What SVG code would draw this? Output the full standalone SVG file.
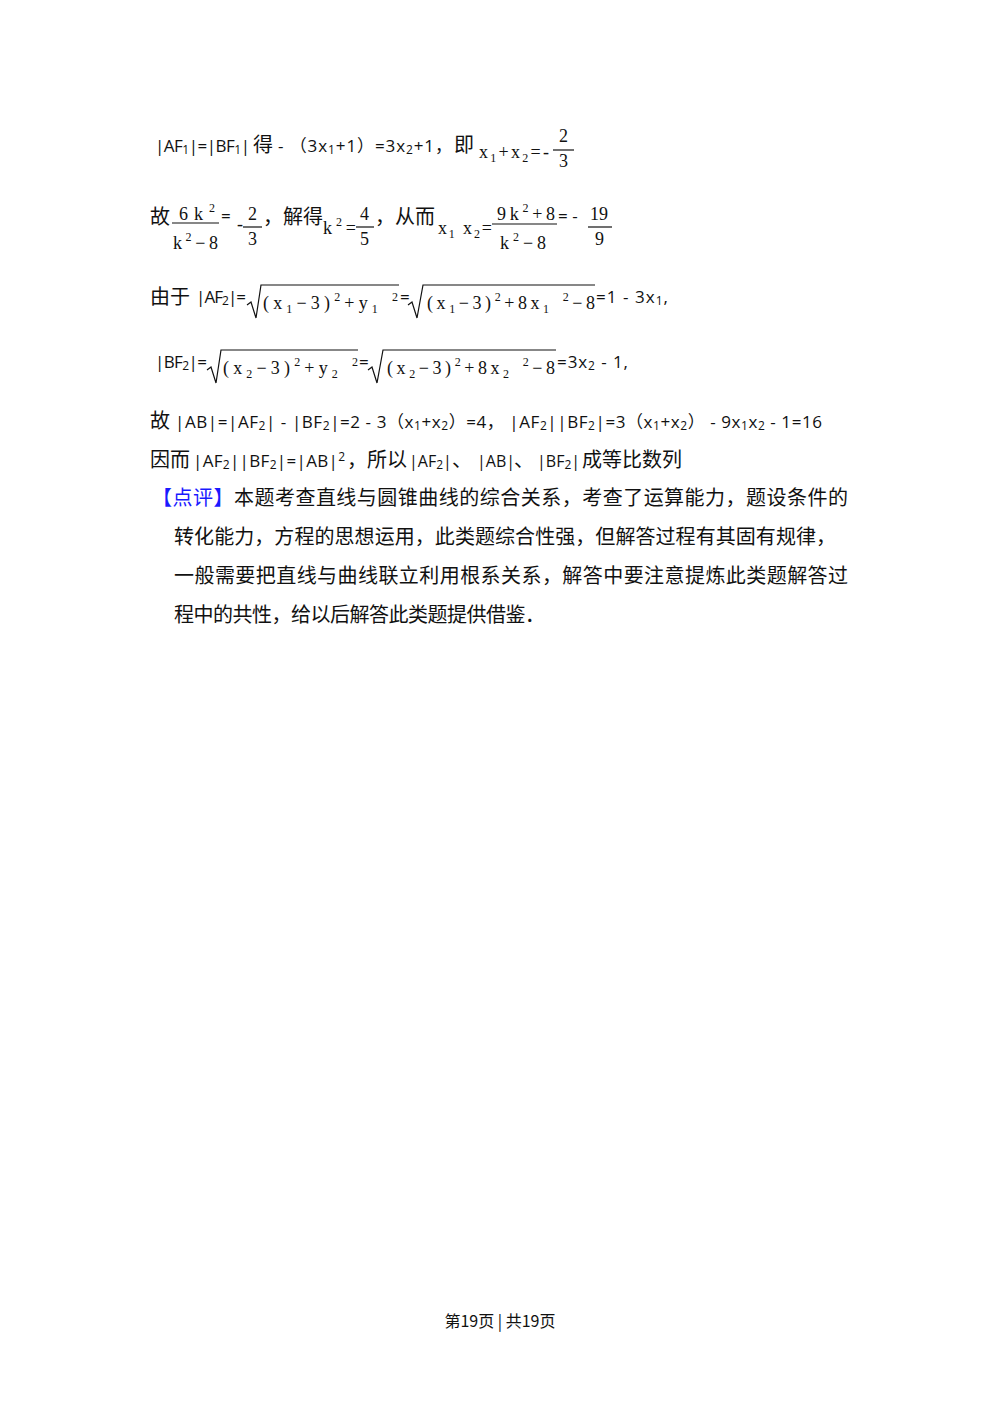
<svg xmlns="http://www.w3.org/2000/svg" width="1000" height="1414" viewBox="0 0 1000 1414">
<style>
.t{font-family:"Open Sans","Noto Sans CJK SC",sans-serif;font-size:17px;fill:#111}
.c{font-family:"Noto Sans CJK SC",sans-serif;font-size:20px;fill:#111}
.m{font-family:"Liberation Serif","DejaVu Serif",serif;font-size:18px;fill:#111}
.s{font-size:12px}
.bl{fill:#1a1aff}
.ln{stroke:#111;stroke-width:1.2;fill:none}
</style>
<rect width="1000" height="1414" fill="#fff"/>
<g id="line1">
<text class="t" x="155" y="152" textLength="95" lengthAdjust="spacing">|AF<tspan class="s" dy="2">1</tspan><tspan dy="-2">|=|BF</tspan><tspan class="s" dy="2">1</tspan><tspan dy="-2">|</tspan></text>
<text class="c" x="253" y="152">得</text>
<text class="t" x="278" y="152" textLength="174" lengthAdjust="spacing">- （3x<tspan class="s" dy="2">1</tspan><tspan dy="-2">+1）=3x</tspan><tspan class="s" dy="2">2</tspan><tspan dy="-2">+1，</tspan></text>
<text class="c" x="454" y="152">即</text>
<text class="m" x="479" y="158" textLength="70" lengthAdjust="spacing">x<tspan class="s" dy="4">1</tspan><tspan dy="-4">+x</tspan><tspan class="s" dy="4">2</tspan><tspan dy="-4">=-</tspan></text>
<text class="m" x="559" y="142">2</text><line class="ln" x1="553" y1="150" x2="574" y2="150"/><text class="m" x="559" y="167">3</text>
</g>
<g id="line2">
<text class="c" x="150" y="224">故</text>
<text class="m" x="179" y="220" textLength="36" lengthAdjust="spacing">6k<tspan class="s" dy="-8">2</tspan></text><line class="ln" x1="172" y1="223" x2="219" y2="223"/>
<text class="m" x="173" y="249" textLength="45" lengthAdjust="spacing">k<tspan class="s" dy="-8">2</tspan><tspan dy="8">−8</tspan></text>
<text class="t" x="221" y="222">=</text>
<text class="m" x="237" y="230">-</text>
<text class="m" x="248" y="220">2</text><line class="ln" x1="243" y1="227" x2="262" y2="227"/><text class="m" x="248" y="245">3</text>
<text class="c" x="263" y="224">，解得</text>
<text class="m" x="323" y="234" textLength="33" lengthAdjust="spacing">k<tspan class="s" dy="-8">2</tspan><tspan dy="8">=</tspan></text>
<text class="m" x="360" y="220">4</text><line class="ln" x1="356" y1="227" x2="374" y2="227"/><text class="m" x="360" y="245">5</text>
<text class="c" x="375" y="224">，从而</text>
<text class="m" x="438" y="234" textLength="54" lengthAdjust="spacing">x<tspan class="s" dy="4">1</tspan><tspan dy="-4"> x</tspan><tspan class="s" dy="4">2</tspan><tspan dy="-4">=</tspan></text>
<text class="m" x="497" y="220" textLength="58" lengthAdjust="spacing">9k<tspan class="s" dy="-8">2</tspan><tspan dy="8">+8</tspan></text><line class="ln" x1="492" y1="224" x2="557" y2="224"/>
<text class="m" x="500" y="249" textLength="46" lengthAdjust="spacing">k<tspan class="s" dy="-8">2</tspan><tspan dy="8">−8</tspan></text>
<text class="t" x="558" y="222">= -</text>
<text class="m" x="590" y="220">19</text><line class="ln" x1="588" y1="227" x2="612" y2="227"/><text class="m" x="595" y="245">9</text>
</g>
<g id="line3">
<text class="c" x="150" y="304">由于</text>
<text class="t" x="196" y="303" textLength="50" lengthAdjust="spacing">|AF<tspan class="s" dy="2">2</tspan><tspan dy="-2">|=</tspan></text>
<path class="ln" d="M247,305 L251,302 L256,318 L261,285 L399,285"/>
<text class="m" x="263" y="309" textLength="135" lengthAdjust="spacing">(x<tspan class="s" dy="4">1</tspan><tspan dy="-4">−3)</tspan><tspan class="s" dy="-8">2</tspan><tspan dy="8">+y</tspan><tspan class="s" dy="4">1</tspan><tspan class="s" dx="10" dy="-12">2</tspan></text>
<text class="t" x="400" y="303">=</text>
<path class="ln" d="M408,305 L412,302 L417,318 L423,285 L595,285"/>
<text class="m" x="427" y="309" textLength="168" lengthAdjust="spacing">(x<tspan class="s" dy="4">1</tspan><tspan dy="-4">−3)</tspan><tspan class="s" dy="-8">2</tspan><tspan dy="8">+8x</tspan><tspan class="s" dy="4">1</tspan><tspan class="s" dx="10" dy="-12">2</tspan><tspan dy="8">−8</tspan></text>
<text class="t" x="596" y="303" textLength="72" lengthAdjust="spacing">=1 - 3x<tspan class="s" dy="2">1</tspan><tspan dy="-2">,</tspan></text>
</g>
<g id="line4">
<text class="t" x="155" y="368" textLength="52" lengthAdjust="spacing">|BF<tspan class="s" dy="2">2</tspan><tspan dy="-2">|=</tspan></text>
<path class="ln" d="M207,370 L211,367 L216,383 L221,350 L358,350"/>
<text class="m" x="223" y="374" textLength="135" lengthAdjust="spacing">(x<tspan class="s" dy="4">2</tspan><tspan dy="-4">−3)</tspan><tspan class="s" dy="-8">2</tspan><tspan dy="8">+y</tspan><tspan class="s" dy="4">2</tspan><tspan class="s" dx="10" dy="-12">2</tspan></text>
<text class="t" x="359" y="368">=</text>
<path class="ln" d="M368,370 L372,367 L377,383 L383,350 L556,350"/>
<text class="m" x="387" y="374" textLength="168" lengthAdjust="spacing">(x<tspan class="s" dy="4">2</tspan><tspan dy="-4">−3)</tspan><tspan class="s" dy="-8">2</tspan><tspan dy="8">+8x</tspan><tspan class="s" dy="4">2</tspan><tspan class="s" dx="10" dy="-12">2</tspan><tspan dy="8">−8</tspan></text>
<text class="t" x="557" y="368" textLength="71" lengthAdjust="spacing">=3x<tspan class="s" dy="2">2</tspan><tspan dy="-2"> - 1,</tspan></text>
</g>
<g id="line5">
<text class="c" x="150" y="428">故</text>
<text class="t" x="175" y="428" textLength="647" lengthAdjust="spacing">|AB|=|AF<tspan class="s" dy="2">2</tspan><tspan dy="-2">| - |BF</tspan><tspan class="s" dy="2">2</tspan><tspan dy="-2">|=2 - 3（x</tspan><tspan class="s" dy="2">1</tspan><tspan dy="-2">+x</tspan><tspan class="s" dy="2">2</tspan><tspan dy="-2">）=4，  |AF</tspan><tspan class="s" dy="2">2</tspan><tspan dy="-2">||BF</tspan><tspan class="s" dy="2">2</tspan><tspan dy="-2">|=3（x</tspan><tspan class="s" dy="2">1</tspan><tspan dy="-2">+x</tspan><tspan class="s" dy="2">2</tspan><tspan dy="-2">） - 9x</tspan><tspan class="s" dy="2">1</tspan><tspan dy="-2">x</tspan><tspan class="s" dy="2">2</tspan><tspan dy="-2"> - 1=16</tspan></text>
</g>
<g id="line6">
<text class="c" x="150" y="467">因而</text>
<text class="t" x="193" y="467" textLength="152" lengthAdjust="spacing">|AF<tspan class="s" dy="2">2</tspan><tspan dy="-2">||BF</tspan><tspan class="s" dy="2">2</tspan><tspan dy="-2">|=|AB|</tspan><tspan class="s" dy="-6">2</tspan></text>
<text class="c" x="347" y="467">，所以</text>
<text class="t" x="409" y="467" style="font-size:16px">|AF<tspan class="s" dy="2">2</tspan><tspan dy="-2">|</tspan></text>
<text class="c" x="452" y="467">、</text>
<text class="t" x="477" y="467" style="font-size:16px">|AB|</text>
<text class="c" x="514" y="467">、</text>
<text class="t" x="537" y="467" style="font-size:16px">|BF<tspan class="s" dy="2">2</tspan><tspan dy="-2">|</tspan></text>
<text class="c" x="582" y="467">成等比数列</text>
</g>
<g id="comment">
<text class="c" x="152" y="505" textLength="696" lengthAdjust="spacing"><tspan class="bl">【点评】</tspan>本题考查直线与圆锥曲线的综合关系，考查了运算能力，题设条件的</text>
<text class="c" x="174" y="544" textLength="662" lengthAdjust="spacing">转化能力，方程的思想运用，此类题综合性强，但解答过程有其固有规律，</text>
<text class="c" x="174" y="583" textLength="674" lengthAdjust="spacing">一般需要把直线与曲线联立利用根系关系，解答中要注意提炼此类题解答过</text>
<text class="c" x="174" y="622" textLength="371" lengthAdjust="spacing">程中的共性，给以后解答此类题提供借鉴．</text>
</g>
<g id="footer">
<text class="c" x="500" y="1327" text-anchor="middle" style="font-size:16px">第19页 | 共19页</text>
</g>
</svg>
